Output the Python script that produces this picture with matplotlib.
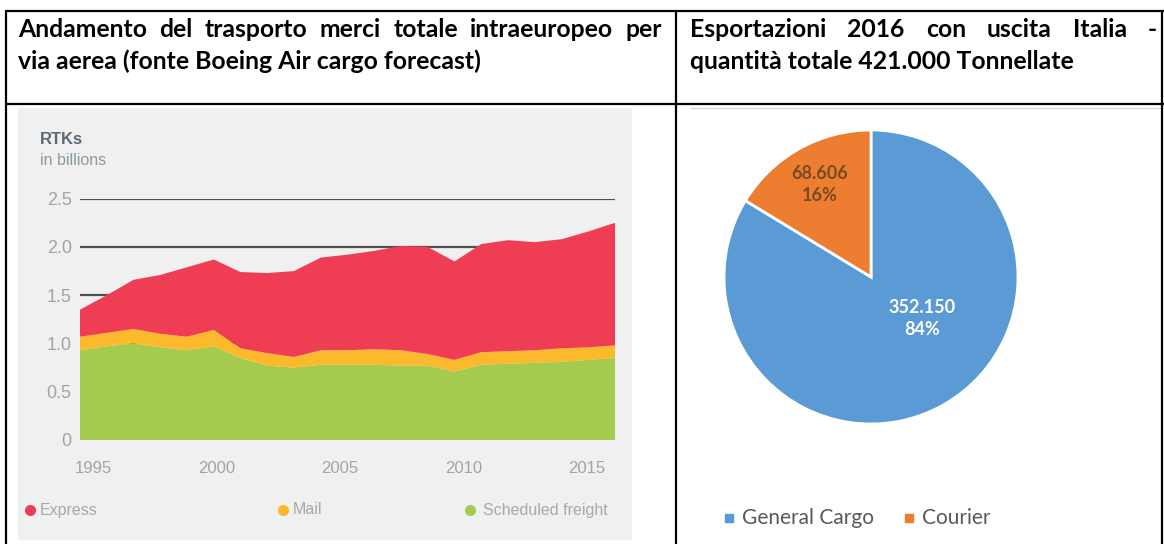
import matplotlib
matplotlib.use('Agg')
import matplotlib.pyplot as plt
from matplotlib.lines import Line2D
from matplotlib.patches import Rectangle

W, H, DPI = 1164, 544, 100

# ---------------- data ----------------
years = list(range(1995, 2016))
scheduled_freight = [0.93, 0.97, 1.00, 0.96, 0.93, 0.97, 0.85, 0.77, 0.75, 0.78, 0.78,
                     0.78, 0.77, 0.77, 0.71, 0.78, 0.79, 0.80, 0.81, 0.83, 0.85]
mail = [0.14, 0.14, 0.15, 0.14, 0.14, 0.17, 0.10, 0.13, 0.11, 0.15, 0.15,
        0.16, 0.16, 0.12, 0.12, 0.13, 0.13, 0.13, 0.14, 0.13, 0.13]
express = [0.28, 0.39, 0.51, 0.61, 0.72, 0.73, 0.79, 0.83, 0.89, 0.96, 0.99,
           1.02, 1.08, 1.11, 1.02, 1.12, 1.15, 1.12, 1.13, 1.20, 1.27]
series_names = ['Express', 'Mail', 'Scheduled freight']
x_tick_years = [1995, 2000, 2005, 2010, 2015]
y_ticks = [0, 0.5, 1.0, 1.5, 2.0, 2.5]
y_tick_labels = ['0', '0.5', '1.0', '1.5', '2.0', '2.5']

pie_labels = ['General Cargo', 'Courier']
pie_values = [352150, 68606]

header_left = ['Andamento del trasporto merci totale intraeuropeo per',
               'via aerea (fonte Boeing Air cargo forecast)']
header_right = ['Esportazioni 2016 con uscita Italia -',
                'quantità totale 421.000 Tonnellate']

# ---------------- helpers ----------------
fig = plt.figure(figsize=(W / DPI, H / DPI), dpi=DPI)
fig.patch.set_facecolor('white')


def fx(x):
    return x / W


def fy(y):
    return 1 - y / H


def px_rect(x0, y0, x1, y1):
    return [x0 / W, 1 - y1 / H, (x1 - x0) / W, (y1 - y0) / H]


def hline(x0, x1, y, color='black', lw=1.6):
    fig.add_artist(Line2D([fx(x0), fx(x1)], [fy(y), fy(y)], transform=fig.transFigure,
                          color=color, lw=lw, solid_capstyle='butt'))


def vline(x, y0, y1, color='black', lw=1.6):
    fig.add_artist(Line2D([fx(x), fx(x)], [fy(y0), fy(y1)], transform=fig.transFigure,
                          color=color, lw=lw, solid_capstyle='butt'))


# ---------------- left panel background ----------------
fig.add_artist(Rectangle((fx(18), fy(540)), (632 - 18) / W, (540 - 108) / H,
                         transform=fig.transFigure, facecolor='#f0f0f0',
                         edgecolor='none', zorder=0))
hline(690, 1164, 108, color='#d9d9d9', lw=1.0)

# ---------------- stacked area ----------------
C_EXP, C_MAIL, C_FR = '#ef3e54', '#fdb92c', '#a4cb4e'
ax = fig.add_axes(px_rect(80, 198.7, 615, 440))
ax.set_facecolor('none')
for s in ax.spines.values():
    s.set_visible(False)
ax.set_xlim(years[0], years[-1])
ax.set_ylim(0, 2.5)
for t in y_ticks[1:]:
    ax.axhline(t, color='#505050', lw=1.6, zorder=1)
ax.stackplot(years, scheduled_freight, mail, express,
             colors=[C_FR, C_MAIL, C_EXP], linewidth=0, zorder=2)
ax.set_yticks(y_ticks, y_tick_labels)
ax.set_xticks([])
ax.tick_params(axis='y', length=0, pad=6, labelcolor='#a3a3a3', labelsize=13)
for lab in ax.get_yticklabels():
    lab.set_fontfamily('Liberation Sans')

# label axis for the year labels (their spacing differs from the data in the original)
lab_ax = fig.add_axes(px_rect(80, 198.7, 615, 440))
lab_ax.set_facecolor('none')
for s in lab_ax.spines.values():
    s.set_visible(False)
lab_ax.set_xlim(1995 - 13 / 24.7, 1995 + (615 - 93) / 24.7)
lab_ax.set_yticks([])
lab_ax.set_xticks(x_tick_years, [str(y) for y in x_tick_years])
lab_ax.tick_params(axis='x', length=0, pad=15, labelcolor='#a3a3a3', labelsize=12)
for lab in lab_ax.get_xticklabels():
    lab.set_fontfamily('Liberation Sans')

fig.text(fx(40), fy(140), 'RTKs', fontsize=12, fontweight='bold', color='#5d6a74',
         va='center', ha='left', family='Liberation Sans')
fig.text(fx(40), fy(160), 'in billions', fontsize=11.5, color='#8c99a3',
         va='center', ha='left', family='Liberation Sans')

# legend of the area chart
leg_pos = [(30, 40), (283, 293), (470, 483)]
for name, col, (dx, tx) in zip(series_names, [C_EXP, C_MAIL, C_FR], leg_pos):
    fig.add_artist(Line2D([fx(dx)], [fy(510)], transform=fig.transFigure, marker='o',
                          markersize=7, color=col, linestyle='none'))
    fig.text(fx(tx), fy(510), name, fontsize=11.5, color='#a8a8a8', va='center',
             ha='left', family='Liberation Sans')

# ---------------- pie ----------------
C_BLUE, C_ORANGE = '#5b9bd5', '#ed7d31'
pax = fig.add_axes(px_rect(724, 130, 1018, 424))
wedges, _ = pax.pie(pie_values, colors=[C_BLUE, C_ORANGE], startangle=90,
                    counterclock=False, wedgeprops=dict(edgecolor='white', linewidth=2))
pax.set_xlim(-1, 1)
pax.set_ylim(-1, 1)
total = sum(pie_values)


def fmt(v):
    return f"{v:,}".replace(',', '.')


pax.text(0.35, -0.28, f"{fmt(pie_values[0])}\n{round(100 * pie_values[0] / total)}%",
         color='white', ha='center', va='center', fontsize=13, fontweight='bold',
         family='Lato', linespacing=1.35)
pax.text(-0.35, 0.63, f"{fmt(pie_values[1])}\n{round(100 * pie_values[1] / total)}%",
         color='#7a4a22', ha='center', va='center', fontsize=13, fontweight='bold',
         family='Lato', linespacing=1.35)

for lab, col, (sx, tx) in zip(pie_labels, [C_BLUE, C_ORANGE], [(729, 742), (909, 922)]):
    fig.add_artist(Line2D([fx(sx)], [fy(518)], transform=fig.transFigure, marker='s',
                          markersize=5.5, color=col, linestyle='none'))
    fig.text(fx(tx), fy(518), lab, fontsize=15, color='#595959', va='center',
             ha='left', family='Lato')

# ---------------- table header ----------------
hdr_kw = dict(fontweight='bold', family='Lato', color='black', va='baseline', ha='left')
fig.canvas.draw()
renderer = fig.canvas.get_renderer()

probe = fig.text(0, 0, header_left[1], fontsize=10, **hdr_kw)
w10 = probe.get_window_extent(renderer).width
probe.remove()
HFS = 10 * 464 / w10


def justified(line, x0, x1, y):
    words = line.split(' ')
    texts = [fig.text(0, fy(y), w, fontsize=HFS, **hdr_kw) for w in words]
    widths = [t.get_window_extent(renderer).width for t in texts]
    gap = (x1 - x0 - sum(widths)) / (len(words) - 1)
    x = x0
    for t, w in zip(texts, widths):
        t.set_x(fx(x))
        x += w + gap


justified(header_left[0], 18, 662, 37)
fig.text(fx(18), fy(69), header_left[1], fontsize=HFS, **hdr_kw)
justified(header_right[0], 690, 1157, 37)
fig.text(fx(690), fy(69), header_right[1], fontsize=HFS, **hdr_kw)

# table borders
hline(5, 1164, 11)
hline(5, 1164, 104)
vline(6, 10, 544)
vline(676, 10, 544)
vline(1162, 10, 544)

fig.savefig('out.png', dpi=DPI, facecolor='white')
